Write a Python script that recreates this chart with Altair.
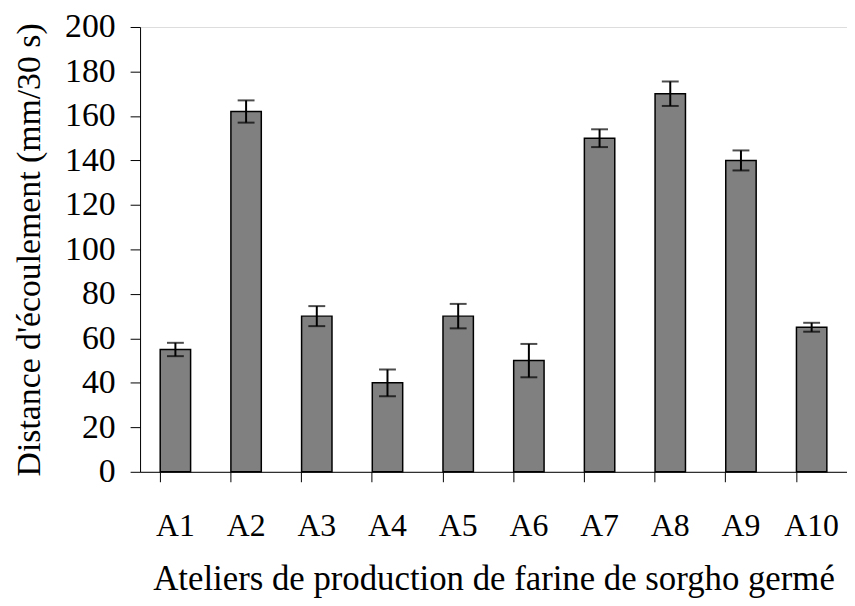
import altair as alt
import pandas as pd

ateliers = ["A1", "A2", "A3", "A4", "A5", "A6", "A7", "A8", "A9", "A10"]
distance = [55, 162, 70, 40, 70, 50, 150, 170, 140, 65]
erreur = [3, 5, 4.5, 6, 5.5, 7.5, 4, 5.5, 4.5, 2]

df = pd.DataFrame({"atelier": ateliers, "distance": distance, "err": erreur})
df["lo"] = df["distance"] - df["err"]
df["hi"] = df["distance"] + df["err"]

FONT = "Liberation Serif"

x = alt.X("atelier:N", sort=ateliers,
          scale=alt.Scale(paddingInner=0.57, paddingOuter=0.285),
          axis=alt.Axis(title="Ateliers de production de farine de sorgho germé",
                        labelAngle=0, labelFontSize=32, labelFont=FONT, labelColor="black",
                        labelPadding=29, titleFontSize=35, titleFont=FONT,
                        titleFontWeight="normal", titleColor="black", titlePadding=21,
                        domainColor="black", tickColor="black", tickSize=10,
                        bandPosition=0))

y_axis = alt.Axis(title="Distance d'écoulement (mm/30 s)", values=list(range(0, 201, 20)),
                  labelFontSize=34, labelFont=FONT, labelColor="black", labelPadding=15,
                  titleFontSize=34, titleFont=FONT, titleFontWeight="normal",
                  titleColor="black", titlePadding=18, grid=False,
                  domainColor="black", tickColor="black", tickSize=10)

base = alt.Chart(df)

bars = base.mark_bar(color="#808080", stroke="black", strokeWidth=1.5).encode(
    x=x,
    y=alt.Y("distance:Q", scale=alt.Scale(domain=[0, 200], nice=False), axis=y_axis),
)

rules = base.mark_rule(color="black", strokeWidth=2).encode(
    x=alt.X("atelier:N", sort=ateliers),
    y="lo:Q",
    y2="hi:Q",
)

caps_lo = base.mark_tick(color="black", thickness=2, size=17, orient="horizontal").encode(
    x=alt.X("atelier:N", sort=ateliers), y="lo:Q")
caps_hi = base.mark_tick(color="black", thickness=2, size=17, orient="horizontal").encode(
    x=alt.X("atelier:N", sort=ateliers), y="hi:Q")

chart = alt.layer(bars, rules, caps_lo, caps_hi).properties(
    width=712, height=448,
    autosize=alt.AutoSizeParams(type="none"),
    padding={"left": 133, "top": 17, "right": 0, "bottom": 131},
).configure_view(stroke=None).configure(background="white", font=FONT)

chart.save("out.html", embed_options={"renderer": "svg", "actions": False})
